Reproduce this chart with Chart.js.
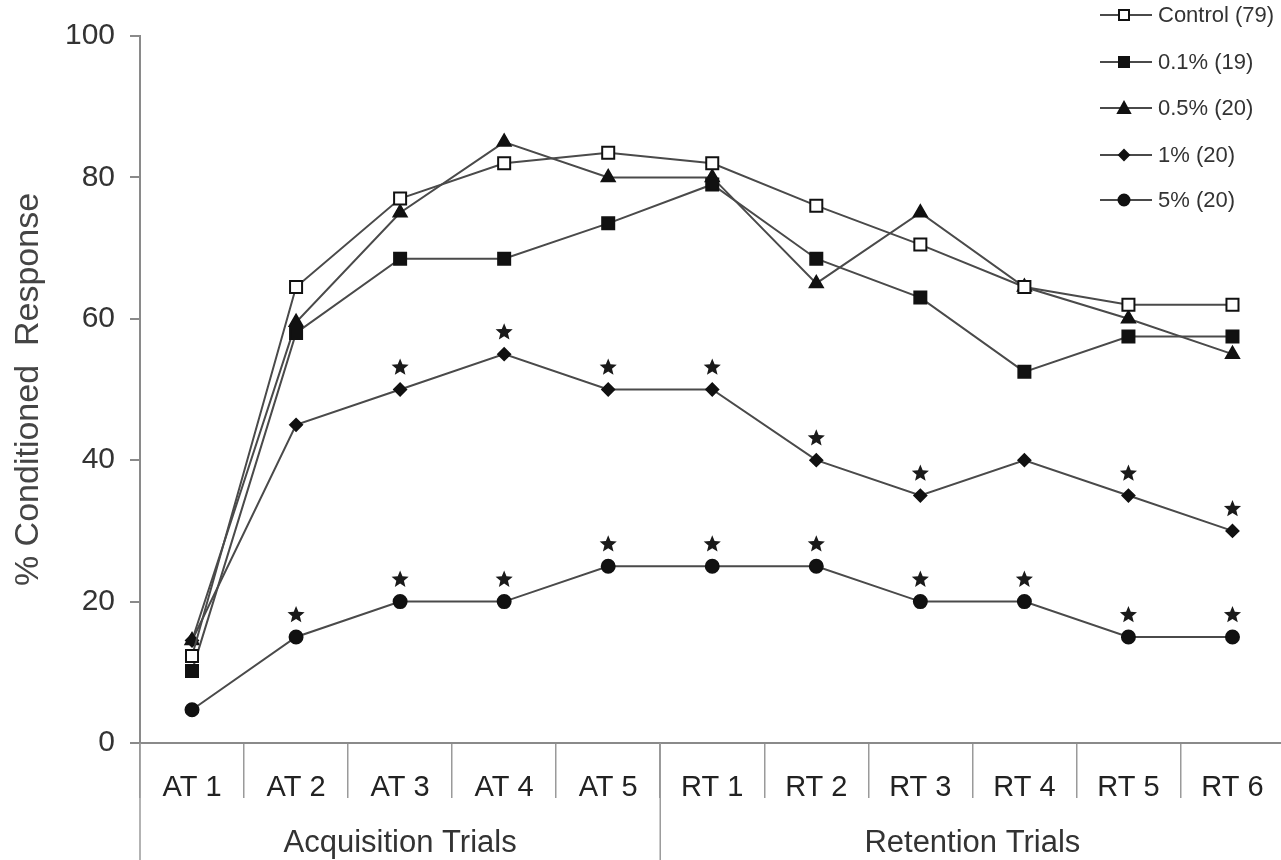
<!DOCTYPE html>
<html>
<head>
<meta charset="utf-8">
<script src="https://cdn.jsdelivr.net/npm/chart.js@4/dist/chart.umd.min.js"></script>
<style>
  html, body { margin: 0; padding: 0; background: #fff; overflow: hidden; }
  #chart { display: block; }
</style>
</head>
<body>
<canvas id="chart" width="1295" height="860"></canvas>
<script>
// Categories and groups
const categories = ['AT 1', 'AT 2', 'AT 3', 'AT 4', 'AT 5', 'RT 1', 'RT 2', 'RT 3', 'RT 4', 'RT 5', 'RT 6'];
const groupNames = ['Acquisition Trials', 'Retention Trials'];
const groupSizes = [5, 6];

// % conditioned response per group
const control = [12.3, 64.5, 77, 82, 83.5, 82, 76, 70.5, 64.5, 62, 62];
const pct01 = [10.2, 58, 68.5, 68.5, 73.5, 79, 68.5, 63, 52.5, 57.5, 57.5];
const pct05 = [14.5, 59.5, 75, 85, 80, 80, 65, 75, 64.5, 60, 55];
const pct1 = [14.5, 45, 50, 55, 50, 50, 40, 35, 40, 35, 30];
const pct5 = [4.7, 15, 20, 20, 25, 25, 25, 20, 20, 15, 15];

// significance stars (1 = star above point)
const sig1 = [0, 0, 1, 1, 1, 1, 1, 1, 0, 1, 1];
const sig5 = [0, 1, 1, 1, 1, 1, 1, 1, 1, 1, 1];

const yTicks = [0, 20, 40, 60, 80, 100];

const LINE = '#4a4a4a';
const MARK = '#111';
const TEXT = '#333';
const FONT = "'Liberation Sans', Arial, sans-serif";

function makeSet(label, data, style, fill, radius) {
    return {
        label: label,
        data: data,
        borderColor: LINE,
        borderWidth: 2,
        pointStyle: style,
        pointRadius: radius,
        pointBorderColor: MARK,
        pointBackgroundColor: fill,
        pointBorderWidth: 2,
        tension: 0
    };
}

const datasets = [
    makeSet('Control (79)', control, 'rect', '#fff', 8.5),
    makeSet('0.1% (19)', pct01, 'rect', MARK, 8.5),
    makeSet('0.5% (20)', pct05, 'triangle', MARK, 7.5),
    makeSet('1% (20)', pct1, 'rectRot', MARK, 6),
    makeSet('5% (20)', pct5, 'circle', MARK, 6.5)
];

// small marker painter for the legend
function drawMarker(ctx, style, fill, x, y) {
    ctx.save();
    ctx.fillStyle = fill;
    ctx.strokeStyle = MARK;
    ctx.lineWidth = 2;
    ctx.beginPath();
    if (style === 'rect') {
        ctx.rect(x - 5, y - 5, 10, 10);
    } else if (style === 'triangle') {
        ctx.moveTo(x, y - 6);
        ctx.lineTo(x + 6, y + 5);
        ctx.lineTo(x - 6, y + 5);
        ctx.closePath();
    } else if (style === 'rectRot') {
        ctx.moveTo(x, y - 5);
        ctx.lineTo(x + 5, y);
        ctx.lineTo(x, y + 5);
        ctx.lineTo(x - 5, y);
        ctx.closePath();
    } else {
        ctx.arc(x, y, 5.5, 0, Math.PI * 2);
    }
    ctx.fill();
    ctx.stroke();
    ctx.restore();
}

// filled five point star
function drawStar(ctx, cx, cy, outer, inner) {
    ctx.beginPath();
    for (let k = 0; k < 10; k++) {
        const r = k % 2 === 0 ? outer : inner;
        const a = -Math.PI / 2 + k * Math.PI / 5;
        const px = cx + r * Math.cos(a);
        const py = cy + r * Math.sin(a);
        if (k === 0) ctx.moveTo(px, py); else ctx.lineTo(px, py);
    }
    ctx.closePath();
    ctx.fill();
}

// group labels, long separators, stars and legend
const extrasPlugin = {
    id: 'extras',
    afterDraw(chart) {
        const ctx = chart.ctx;
        const x = chart.scales.x;
        const y = chart.scales.y;
        const half = (x.getPixelForValue(1) - x.getPixelForValue(0)) / 2;
        const bottom = chart.height;

        ctx.save();
        // group separators and names
        ctx.strokeStyle = '#9a9a9a';
        ctx.lineWidth = 1.5;
        let start = 0;
        const edges = [x.getPixelForValue(0) - half];
        groupSizes.forEach((n, i) => {
            const end = start + n - 1;
            const left = x.getPixelForValue(start) - half;
            const right = x.getPixelForValue(end) + half;
            edges.push(right);
            ctx.fillStyle = TEXT;
            ctx.font = '31px ' + FONT;
            ctx.textAlign = 'center';
            ctx.textBaseline = 'middle';
            ctx.fillText(groupNames[i], (left + right) / 2, 843);
            start += n;
        });
        edges.forEach(e => {
            ctx.beginPath();
            ctx.moveTo(e, y.bottom);
            ctx.lineTo(e, bottom);
            ctx.stroke();
        });

        // stars
        ctx.fillStyle = '#1a1a1a';
        const stars = [[sig1, pct1], [sig5, pct5]];
        stars.forEach(([sig, vals]) => {
            sig.forEach((s, i) => {
                if (!s) return;
                const px = x.getPixelForValue(i);
                const py = y.getPixelForValue(vals[i]);
                drawStar(ctx, px, py - 22, 9, 4);
            });
        });

        // legend
        const lx = 1100;
        const rows = [15, 62, 108, 155, 200];
        ctx.font = '22px ' + FONT;
        ctx.textAlign = 'left';
        ctx.textBaseline = 'middle';
        chart.data.datasets.forEach((ds, i) => {
            const ly = rows[i];
            ctx.strokeStyle = LINE;
            ctx.lineWidth = 2;
            ctx.beginPath();
            ctx.moveTo(lx, ly);
            ctx.lineTo(lx + 52, ly);
            ctx.stroke();
            drawMarker(ctx, ds.pointStyle, ds.pointBackgroundColor, lx + 24, ly);
            ctx.fillStyle = TEXT;
            ctx.fillText(ds.label, lx + 58, ly + 1);
        });
        ctx.restore();
    }
};

new Chart(document.getElementById('chart'), {
    type: 'line',
    data: { labels: categories, datasets: datasets },
    options: {
        responsive: false,
        animation: false,
        layout: { padding: { top: 36, right: 5, left: 0, bottom: 0 } },
        plugins: {
            legend: { display: false },
            tooltip: { enabled: false }
        },
        scales: {
            x: {
                offset: true,
                grid: {
                    offset: true,
                    drawOnChartArea: false,
                    tickLength: 55,
                    color: '#9a9a9a',
                    lineWidth: 1.5
                },
                border: { color: '#8a8a8a', width: 2 },
                ticks: {
                    color: '#222',
                    font: { family: FONT, size: 29 },
                    padding: -27,
                    maxRotation: 0,
                    autoSkip: false
                },
                afterFit(scale) { scale.height = 117; }
            },
            y: {
                min: 0,
                max: 100,
                afterBuildTicks(scale) { scale.ticks = yTicks.map(v => ({ value: v })); },
                grid: {
                    drawOnChartArea: false,
                    tickLength: 10,
                    color: '#8a8a8a',
                    lineWidth: 2
                },
                border: { color: '#8a8a8a', width: 2 },
                ticks: {
                    color: TEXT,
                    font: { family: FONT, size: 30 },
                    padding: 15
                },
                title: {
                    display: true,
                    text: '% Conditioned  Response',
                    color: '#444',
                    font: { family: FONT, size: 34 },
                    padding: { top: 8, bottom: 0 }
                },
                afterFit(scale) { scale.width = 140; }
            }
        }
    },
    plugins: [extrasPlugin]
});
</script>
</body>
</html>
